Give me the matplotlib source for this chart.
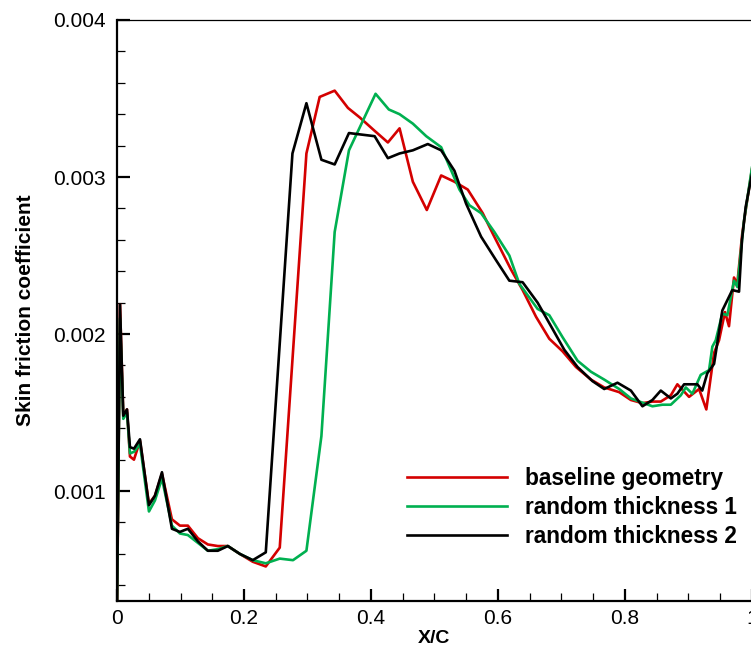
import matplotlib
matplotlib.use("Agg")
import matplotlib.pyplot as plt
from matplotlib.ticker import MultipleLocator, FormatStrFormatter, FuncFormatter

plt.rcParams['font.family'] = ['Liberation Sans', 'DejaVu Sans']

# baseline geometry
x_base = [0.0, 0.0024, 0.0047, 0.0099, 0.0157, 0.0204, 0.0267, 0.0362, 0.0503, 0.0597,
          0.0708, 0.0865, 0.0991, 0.1116, 0.1274, 0.1431, 0.1588, 0.1745, 0.1934, 0.2138,
          0.2343, 0.2563, 0.2983, 0.3192, 0.3428, 0.3637, 0.3821, 0.4041, 0.4266, 0.4450,
          0.4659, 0.4879, 0.5105, 0.5314, 0.5524, 0.5759, 0.5917, 0.6206, 0.6388, 0.6599,
          0.6808, 0.7017, 0.7228, 0.7464, 0.7673, 0.7909, 0.8093, 0.8275, 0.8432, 0.8564,
          0.8722, 0.8825, 0.9009, 0.9167, 0.9281, 0.9403, 0.9481, 0.9575, 0.9638, 0.9717,
          0.9769, 0.9847, 0.9901, 1.0]
cf_base = [0.00020, 0.00120, 0.00219, 0.00148, 0.00152, 0.00122, 0.00120, 0.00132, 0.00092, 0.00097,
           0.00111, 0.00082, 0.00078, 0.00078, 0.00070, 0.00066, 0.00065, 0.00065, 0.00060, 0.00055,
           0.00052, 0.00064, 0.00315, 0.00351, 0.00355, 0.00344, 0.00338, 0.00330, 0.00322, 0.00331,
           0.00297, 0.00279, 0.00301, 0.00297, 0.00292, 0.00277, 0.00264, 0.00241, 0.00228, 0.00211,
           0.00197, 0.00189, 0.00179, 0.00171, 0.00166, 0.00163, 0.00158, 0.00156, 0.00157, 0.00157,
           0.00161, 0.00168, 0.00160, 0.00165, 0.00152, 0.00188, 0.00196, 0.00214, 0.00205, 0.00236,
           0.00232, 0.00264, 0.00279, 0.00305]

# random thickness 1
x_rt1 = [0.0, 0.0024, 0.0047, 0.0099, 0.0157, 0.0204, 0.0267, 0.0362, 0.0503, 0.0597,
         0.0708, 0.0865, 0.0991, 0.1116, 0.1274, 0.1431, 0.1588, 0.1745, 0.1934, 0.2138,
         0.2343, 0.2563, 0.2772, 0.2983, 0.3219, 0.3428, 0.3653, 0.4072, 0.4281, 0.4450,
         0.4659, 0.4870, 0.5105, 0.5393, 0.5550, 0.5734, 0.5943, 0.6179, 0.6336, 0.6624,
         0.6808, 0.7017, 0.7253, 0.7464, 0.7673, 0.7909, 0.8093, 0.8432, 0.8590, 0.8722,
         0.8879, 0.8958, 0.9061, 0.9193, 0.9324, 0.9376, 0.9429, 0.9533, 0.9612, 0.9717,
         0.9769, 0.9874, 1.0]
cf_rt1 = [0.00030, 0.00120, 0.00210, 0.00146, 0.00150, 0.00124, 0.00125, 0.00130, 0.00087, 0.00094,
          0.00108, 0.00078, 0.00073, 0.00072, 0.00067, 0.00062, 0.00063, 0.00065, 0.00060, 0.00056,
          0.00054, 0.00057, 0.00056, 0.00062, 0.00135, 0.00265, 0.00317, 0.00353, 0.00343, 0.00340,
          0.00334, 0.00326, 0.00319, 0.00292, 0.00282, 0.00277, 0.00265, 0.00250, 0.00232, 0.00216,
          0.00212, 0.00198, 0.00183, 0.00176, 0.00171, 0.00165, 0.00159, 0.00154, 0.00155, 0.00155,
          0.00161, 0.00166, 0.00162, 0.00174, 0.00177, 0.00192, 0.00196, 0.00213, 0.00212, 0.00234,
          0.00230, 0.00272, 0.00306]

# random thickness 2
x_rt2 = [0.0, 0.0024, 0.0047, 0.0099, 0.0157, 0.0204, 0.0267, 0.0362, 0.0503, 0.0597,
         0.0708, 0.0865, 0.0991, 0.1116, 0.1274, 0.1431, 0.1588, 0.1745, 0.1934, 0.2138,
         0.2343, 0.2763, 0.2983, 0.3219, 0.3428, 0.3653, 0.4057, 0.4266, 0.4450, 0.4659,
         0.4895, 0.5105, 0.5314, 0.5498, 0.5734, 0.5970, 0.6179, 0.6388, 0.6624, 0.6835,
         0.7044, 0.7253, 0.7489, 0.7673, 0.7882, 0.8093, 0.8275, 0.8432, 0.8564, 0.8722,
         0.8825, 0.8931, 0.9140, 0.9217, 0.9296, 0.9403, 0.9533, 0.9690, 0.9796, 0.9843,
         0.9901, 1.0]
cf_rt2 = [0.00030, 0.00120, 0.00219, 0.00148, 0.00152, 0.00128, 0.00127, 0.00133, 0.00091, 0.00097,
          0.00112, 0.00076, 0.00074, 0.00076, 0.00068, 0.00062, 0.00062, 0.00065, 0.00060, 0.00056,
          0.00061, 0.00315, 0.00347, 0.00311, 0.00308, 0.00328, 0.00326, 0.00312, 0.00315, 0.00317,
          0.00321, 0.00317, 0.00304, 0.00283, 0.00262, 0.00247, 0.00234, 0.00233, 0.00220, 0.00205,
          0.00190, 0.00179, 0.00170, 0.00165, 0.00169, 0.00164, 0.00154, 0.00158, 0.00164, 0.00159,
          0.00162, 0.00168, 0.00168, 0.00164, 0.00175, 0.00181, 0.00215, 0.00228, 0.00227, 0.00260,
          0.00281, 0.00302]

labels = ['baseline geometry', 'random thickness 1', 'random thickness 2']
colors = ['#d40000', '#00b050', '#000000']

fig = plt.figure(figsize=(7.51, 6.51), dpi=100)
ax = fig.add_axes([0.1558, 0.0768, 0.8455, 0.8925])

ax.plot(x_base, cf_base, color=colors[0], lw=1.9, label=labels[0])
ax.plot(x_rt1, cf_rt1, color=colors[1], lw=1.9, label=labels[1])
ax.plot(x_rt2, cf_rt2, color=colors[2], lw=1.9, label=labels[2])

ax.set_xlim(0, 1)
ax.set_ylim(0.0003, 0.004)
ax.xaxis.set_major_locator(MultipleLocator(0.2))
ax.xaxis.set_minor_locator(MultipleLocator(0.05))
ax.yaxis.set_major_locator(MultipleLocator(0.001))
ax.yaxis.set_minor_locator(MultipleLocator(0.0002))
ax.xaxis.set_major_formatter(FuncFormatter(lambda v, p: '%g' % round(v, 3)))
ax.yaxis.set_major_formatter(FormatStrFormatter('%.3f'))

ax.tick_params(which='both', direction='in', top=False, right=False, labelsize=15)
ax.tick_params(which='major', length=9, width=1.6)
ax.tick_params(which='minor', length=5.5, width=0.9)
ax.tick_params(axis='y', which='major', pad=8)
ax.tick_params(axis='x', which='major', pad=6)

for s in ['left', 'bottom']:
    ax.spines[s].set_linewidth(1.6)
ax.spines['top'].set_linewidth(0.9)

ax.set_xlabel('X/C', fontsize=14, fontweight='bold', labelpad=1)
ax.set_ylabel('Skin friction coefficient', fontsize=15, fontweight='bold', labelpad=13)

ax.legend(loc='upper left', bbox_to_anchor=(0.4567, 0.231), frameon=False,
          prop={'size': 16.3, 'weight': 'bold'}, handlelength=4.4, handletextpad=0.8,
          labelspacing=0.27, borderpad=0, borderaxespad=0)

fig.savefig('out.png', dpi=100)
